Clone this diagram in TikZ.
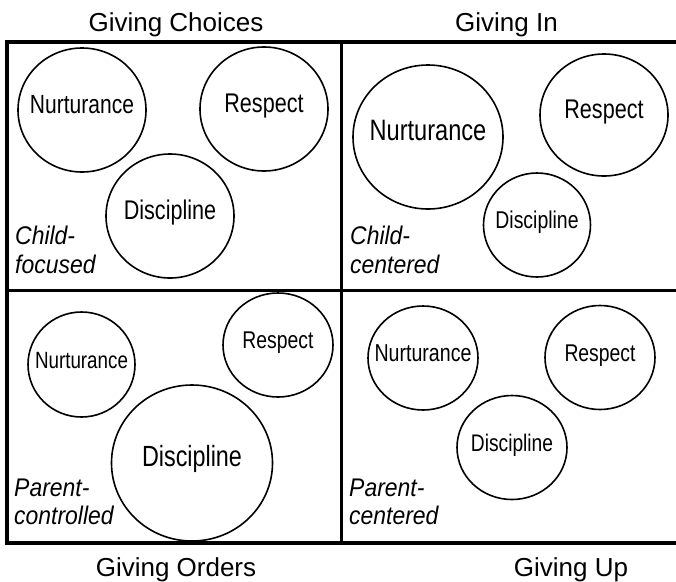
\documentclass[tikz,border=0pt]{standalone}
\usepackage{fontspec}
\setmainfont{Liberation Sans}
\newfontfamily\narrowfont[FakeStretch=0.8]{Liberation Sans}
\newfontfamily\narrowital[FakeStretch=0.9]{Liberation Sans Italic}
\begin{document}
\begin{tikzpicture}[x=1pt,y=-1pt,
  frameline/.style={line width=3.5pt},
  ring/.style={line width=1.6pt},
  title/.style={anchor=base,inner sep=0pt,font=\fontsize{26}{30}\selectfont},
  lbl/.style={inner sep=0pt,text depth=0pt,text height=0.72em,font=\narrowfont\fontsize{#1}{#1}\selectfont},
  side/.style={anchor=base west,inner sep=0pt,font=\narrowital\fontsize{25.5}{28}\selectfont}]
\useasboundingbox (0,0) rectangle (676,581);
\clip (0,0) rectangle (676,581);
% frame
\coordinate (tl) at (7,42);
\coordinate (tr) at (690,42);
\coordinate (ml) at (7,290.5);
\coordinate (mr) at (690,290.5);
\coordinate (bl) at (7,543);
\coordinate (br) at (690,543);
\coordinate (vt) at (341.5,42);
\coordinate (vb) at (341.5,543);
\draw[frameline] (tr) -- (tl) -- (bl) -- (br);
\draw[frameline] (ml) -- (mr);
\draw[frameline] (vt) -- (vb);
% titles
\node[title] (t1) at (176,31) {Giving Choices};
\node[title] (t2) at (506.5,31) {Giving In};
\node[title] (t3) at (176,576) {Giving Orders};
\node[title] (t4) at (571,576) {Giving Up};
% top-left
\node[lbl=26.3] (a1) at (82,110) {Nurturance};
\node[lbl=27] (a2) at (264,109) {Respect};
\node[lbl=27] (a3) at (170,216) {Discipline};
\draw[ring] (a1.center) ellipse [x radius=64pt,y radius=62pt];
\draw[ring] (a2.center) ellipse [x radius=64pt,y radius=62pt];
\draw[ring] (a3.center) ellipse [x radius=64pt,y radius=62pt];
\node[side] (s1a) at (15,244) {Child-};
\node[side] (s1b) at (15,273) {focused};
% top-right
\node[lbl=29.5] (b1) at (428,137) {Nurturance};
\node[lbl=27] (b2) at (604,115) {Respect};
\node[lbl=24.3] (b3) at (537,225) {Discipline};
\draw[ring] (b1.center) ellipse [x radius=75pt,y radius=72pt];
\draw[ring] (b2.center) ellipse [x radius=64pt,y radius=61pt];
\draw[ring] (b3.center) ellipse [x radius=53.5pt,y radius=52pt];
\node[side] (s2a) at (350,244) {Child-};
\node[side] (s2b) at (350,273) {centered};
% bottom-left
\node[lbl=23.5] (c1) at (81.5,364.5) {Nurturance};
\node[lbl=24.2] (c2) at (278,345) {Respect};
\node[lbl=29.2] (c3) at (192,463) {Discipline};
\draw[ring] (c1.center) ellipse [x radius=53.5pt,y radius=52.5pt];
\draw[ring] (c2.center) ellipse [x radius=55pt,y radius=52pt];
\draw[ring] (c3.center) ellipse [x radius=80.5pt,y radius=78pt];
\node[side] (s3a) at (14,496) {Parent-};
\node[side] (s3b) at (14,524) {controlled};
% bottom-right
\node[lbl=24.5] (d1) at (423,358) {Nurturance};
\node[lbl=24.2] (d2) at (600,357.5) {Respect};
\node[lbl=24] (d3) at (512,447.5) {Discipline};
\draw[ring] (d1.center) ellipse [x radius=55pt,y radius=52pt];
\draw[ring] (d2.center) ellipse [x radius=55pt,y radius=52pt];
\draw[ring] (d3.center) ellipse [x radius=55pt,y radius=52pt];
\node[side] (s4a) at (349,496) {Parent-};
\node[side] (s4b) at (349,524) {centered};
\end{tikzpicture}
\end{document}
